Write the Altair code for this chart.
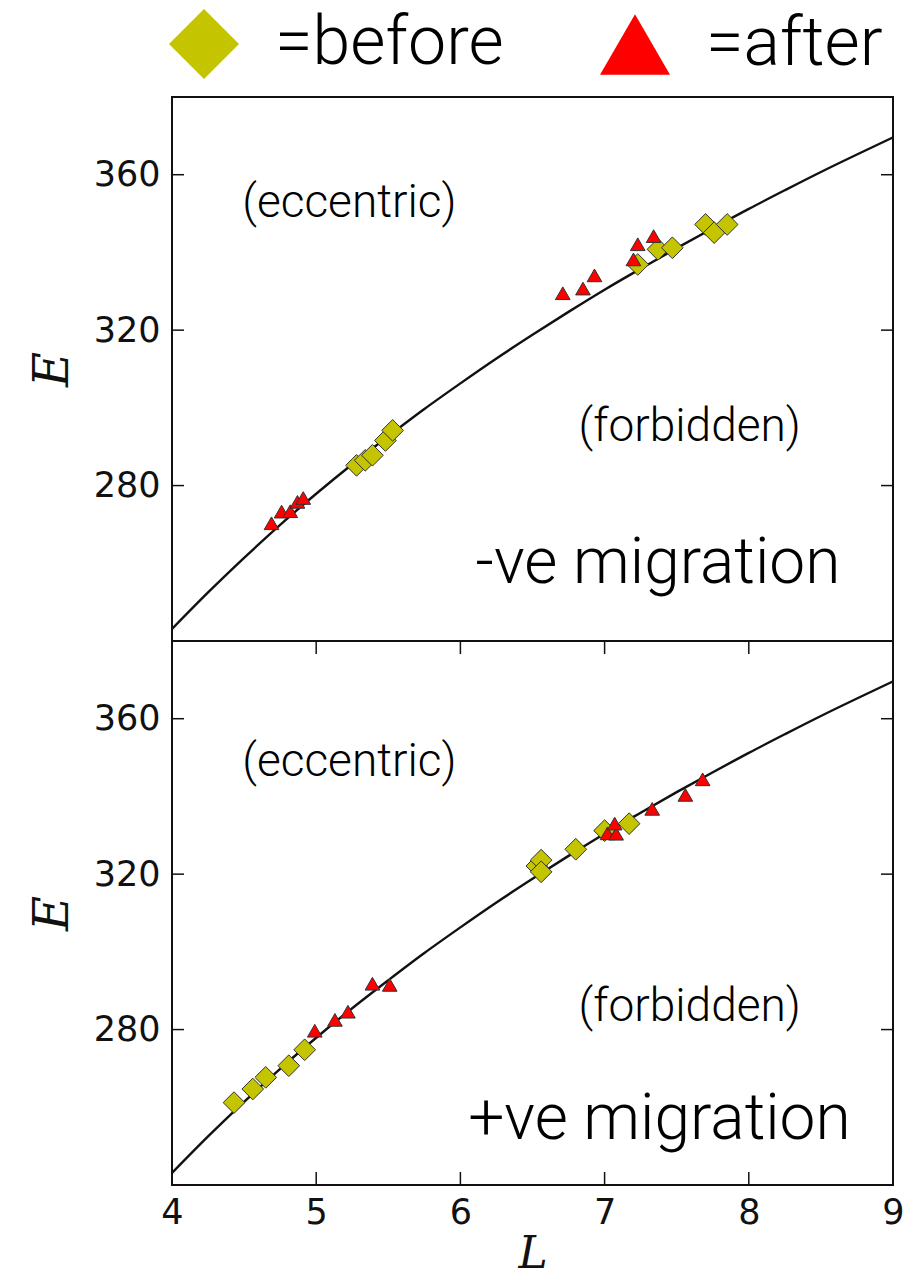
import altair as alt
import pandas as pd

# ---- theoretical boundary curve E(L) ----
curve_L = [4.0, 4.25, 4.5, 4.75, 5.0, 5.25, 5.5, 5.75, 6.0, 6.25, 6.5,
           6.75, 7.0, 7.25, 7.5, 7.75, 8.0, 8.25, 8.5, 8.75, 9.0]
curve_E = [243.1, 252.5, 261.4, 269.9, 277.9, 285.5, 292.7, 299.7, 306.3, 312.7, 318.8,
           324.7, 330.4, 335.8, 341.1, 346.2, 351.2, 356.0, 360.7, 365.2, 369.6]

# ---- top panel: -ve migration ----
neg_before_L = [5.28, 5.34, 5.39, 5.48, 5.53, 7.23, 7.37, 7.47, 7.70, 7.76, 7.85]
neg_before_E = [285.2, 286.5, 287.8, 291.6, 294.2, 336.9, 340.8, 341.2, 347.2, 345.1, 347.2]
neg_after_L = [4.69, 4.76, 4.82, 4.87, 4.91, 6.71, 6.85, 6.93, 7.20, 7.23, 7.34]
neg_after_E = [270.3, 273.3, 273.4, 275.8, 276.8, 329.5, 330.7, 334.1, 338.2, 342.1, 344.2]

# ---- bottom panel: +ve migration ----
pos_before_L = [4.43, 4.56, 4.65, 4.81, 4.92, 6.53, 6.56, 6.56, 6.80, 7.00, 7.17]
pos_before_E = [261.2, 264.7, 267.7, 270.7, 274.8, 322.1, 323.6, 320.6, 326.4, 331.2, 333.0]
pos_after_L = [4.99, 5.13, 5.22, 5.39, 5.51, 7.02, 7.08, 7.07, 7.33, 7.56, 7.68]
pos_after_E = [279.7, 282.5, 284.6, 291.8, 291.5, 330.5, 330.4, 333.0, 336.8, 340.4, 344.4]

types = ["before", "after"]
y_ticks = [280, 320, 360]
x_ticks_inner = [5, 6, 7, 8]
x_labels = [4, 5, 6, 7, 8, 9]

# annotation texts (label, L, E, size, baseline)
neg_notes = [("(eccentric)", 5.23, 352.6, 46, "middle"),
             ("(forbidden)", 7.59, 295.1, 46, "middle"),
             ("-ve migration", 7.37, 254.9, 64, "alphabetic")]
pos_notes = [("(eccentric)", 5.23, 348.9, 46, "middle"),
             ("(forbidden)", 7.59, 285.7, 46, "middle"),
             ("+ve migration", 7.38, 251.9, 64, "alphabetic")]

W, H = 721, 544
LIGHT = "Roboto"

xscale = alt.Scale(domain=[4, 9], nice=False, zero=False)
yscale = alt.Scale(domain=[240, 380], nice=False, zero=False)
cscale = alt.Scale(domain=types, range=["#c4c400", "#ff0000"])
sscale = alt.Scale(domain=types, range=["diamond", "triangle-up"])

legend = alt.Legend(
    title=None, orient="none", legendX=-3, legendY=-88, direction="horizontal",
    labelFont=LIGHT, labelFontWeight=300, labelFontSize=68, labelColor="#000",
    labelExpr="'=' + datum.label", labelLimit=600, labelOffset=36, columnPadding=96,
    symbolSize=4900, symbolStrokeWidth=0, symbolOpacity=1)

curve_df = pd.DataFrame({"L": curve_L, "E": curve_E})


def points_df(L, E, t):
    return pd.DataFrame({"L": L, "E": E, "type": [t] * len(L)})


def panel(bL, bE, aL, aE, notes, bottom):
    if bottom:
        xaxis = alt.Axis(values=x_labels, format="d", ticks=False, domain=False, grid=False,
                         labelFont="DejaVu Sans", labelFontSize=35, labelPadding=10,
                         labelFlush=False, labelColor="#111",
                         title="L", titleFont="DejaVu Serif", titleFontStyle="italic",
                         titleFontWeight="normal", titleFontSize=44, titlePadding=2,
                         titleColor="#111")
    else:
        xaxis = None
    yaxis = alt.Axis(values=y_ticks, ticks=False, domain=False, grid=False,
                     labelFont="DejaVu Sans", labelFontSize=35, labelPadding=12,
                     labelColor="#111",
                     title="E", titleFont="DejaVu Serif", titleFontStyle="italic",
                     titleFontWeight="normal", titleFontSize=48, titlePadding=16,
                     titleColor="#111")

    line = alt.Chart(curve_df).mark_line(color="#111", strokeWidth=2.4,
                                         interpolate="monotone", clip=True).encode(
        x=alt.X("L:Q", scale=xscale, axis=xaxis),
        y=alt.Y("E:Q", scale=yscale, axis=yaxis))

    def pts_layer(df, size):
        return alt.Chart(df).mark_point(filled=True, opacity=1, stroke="#333",
                                        strokeWidth=1, size=size).encode(
            x=alt.X("L:Q", scale=xscale),
            y=alt.Y("E:Q", scale=yscale),
            color=alt.Color("type:N", scale=cscale, legend=legend),
            shape=alt.Shape("type:N", scale=sscale, legend=legend),
        )

    before = pts_layer(points_df(bL, bE, "before"), 470)
    after = pts_layer(points_df(aL, aE, "after"), 215)

    ydf = pd.DataFrame({"E": y_ticks})
    tick_l = alt.Chart(ydf).mark_rule(color="#111", strokeWidth=1.5).encode(
        y=alt.Y("E:Q", scale=yscale), x=alt.value(0), x2=alt.value(12))
    tick_r = alt.Chart(ydf).mark_rule(color="#111", strokeWidth=1.5).encode(
        y=alt.Y("E:Q", scale=yscale), x=alt.value(W - 12), x2=alt.value(W))

    layers = [line, before, after, tick_l, tick_r]
    if bottom:
        xdf = pd.DataFrame({"L": x_ticks_inner})
        tick_t = alt.Chart(xdf).mark_rule(color="#111", strokeWidth=1.5).encode(
            x=alt.X("L:Q", scale=xscale), y=alt.value(0), y2=alt.value(13))
        tick_b = alt.Chart(xdf).mark_rule(color="#111", strokeWidth=1.5).encode(
            x=alt.X("L:Q", scale=xscale), y=alt.value(H - 13), y2=alt.value(H))
        layers += [tick_t, tick_b]

    for label, lx, ly, fs, bl in notes:
        ndf = pd.DataFrame({"L": [lx], "E": [ly], "t": [label]})
        layers.append(alt.Chart(ndf).mark_text(font=LIGHT, fontWeight=300, fontSize=fs,
                                               color="#000", align="center",
                                               baseline=bl).encode(
            x=alt.X("L:Q", scale=xscale), y=alt.Y("E:Q", scale=yscale), text="t:N"))

    return alt.layer(*layers).properties(width=W, height=H)


top = panel(neg_before_L, neg_before_E, neg_after_L, neg_after_E, neg_notes, False)
bot = panel(pos_before_L, pos_before_E, pos_after_L, pos_after_E, pos_notes, True)

chart = alt.vconcat(top, bot, spacing=0, bounds="flush").properties(
    padding={"left": 28, "top": 9, "right": 0, "bottom": 0}
).configure_view(stroke="#111", strokeWidth=2)

chart.save("out.html", embed_options={"renderer": "svg", "actions": False})
